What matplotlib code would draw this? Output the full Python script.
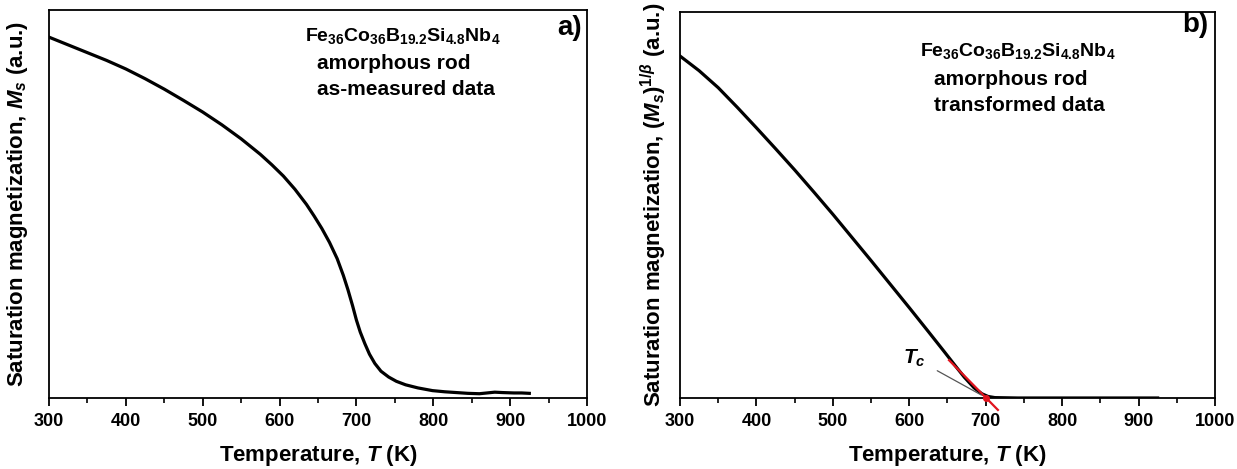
import numpy as np
import matplotlib
matplotlib.use("Agg")
import matplotlib.pyplot as plt

plt.rcParams['font.family'] = ['Liberation Sans', 'DejaVu Sans']
plt.rcParams['font.weight'] = 'bold'
plt.rcParams['axes.labelweight'] = 'bold'
plt.rcParams['mathtext.fontset'] = 'custom'
plt.rcParams['mathtext.rm'] = 'Liberation Sans:bold'
plt.rcParams['mathtext.bf'] = 'Liberation Sans:bold'
plt.rcParams['mathtext.it'] = 'Liberation Sans:italic:bold'

# panel a) as-measured Ms(T), arbitrary units
T_a = [300, 325, 350, 375, 400, 425, 450, 475, 500, 525, 550, 575, 590, 605, 620, 635, 645,
       655, 665, 675, 683, 689, 695, 700, 705, 711, 717, 724, 732, 742, 752, 764, 780,
       799, 815, 830, 845, 860, 870, 880, 890, 905, 915, 925]
M_a = [0.930, 0.910, 0.890, 0.870, 0.848, 0.823, 0.796, 0.767, 0.737, 0.704, 0.668, 0.628,
       0.601, 0.572, 0.538, 0.499, 0.469, 0.437, 0.401, 0.359, 0.316, 0.279, 0.238, 0.201,
       0.170, 0.140, 0.113, 0.089, 0.069, 0.054, 0.043, 0.034, 0.026, 0.019, 0.016, 0.014,
       0.012, 0.011, 0.013, 0.015, 0.014, 0.013, 0.013, 0.012]

# panel b) transformed data (Ms)^(1/beta)
T_b = [300, 325, 350, 375, 400, 425, 450, 475, 500, 525, 550, 575, 600, 625, 645, 660,
       672, 685, 695, 703, 712, 742, 800, 860, 925]
M_b = [0.886, 0.848, 0.804, 0.753, 0.700, 0.646, 0.591, 0.534, 0.476, 0.416, 0.356, 0.295,
       0.234, 0.172, 0.122, 0.084, 0.054, 0.026, 0.011, 0.004, 0.001, 0.0, 0.0, 0.0, 0.0]

# linear fit near Tc
fit_T = [652, 716]
fit_M = [0.098, -0.031]
Tc = 700

xticks = [300, 400, 500, 600, 700, 800, 900, 1000]
xticklabels = ['300', '400', '500', '600', '700', '800', '900', '1000']

fig = plt.figure(figsize=(12.37, 4.69), dpi=100)
ax1 = fig.add_axes([0.0396, 0.1514, 0.4349, 0.8273])
ax2 = fig.add_axes([0.5497, 0.1514, 0.4325, 0.8230])

comp = r'Fe$_{36}$Co$_{36}$B$_{19.2}$Si$_{4.8}$Nb$_{4}$'

for ax in (ax1, ax2):
    ax.set_xlim(300, 1000)
    ax.set_xticks(xticks)
    ax.set_xticklabels(xticklabels, fontweight='bold', fontsize=13)
    ax.set_xticks(np.arange(350, 1000, 100), minor=True)
    ax.set_yticks([])
    ax.tick_params(axis='x', which='major', direction='out', length=6, width=1.3, pad=5)
    ax.tick_params(axis='x', which='minor', direction='out', length=3.5, width=1.2)
    for s in ax.spines.values():
        s.set_linewidth(1.3)
    ax.set_xlabel(r'Temperature, $\mathit{T}$ (K)', fontsize=16, labelpad=9)

ax1.plot(T_a, M_a, color='black', lw=2.3)
ax1.set_ylim(0, 1)
ax1.set_ylabel(r'Saturation magnetization, $\mathit{M}_{s}$ (a.u.)', fontsize=16, labelpad=14)
ax1.text(0.658, 0.933, comp, transform=ax1.transAxes, ha='center', va='center', fontsize=14)
ax1.text(0.498, 0.863, 'amorphous rod', transform=ax1.transAxes, ha='left', va='center', fontsize=15)
ax1.text(0.498, 0.794, 'as-measured data', transform=ax1.transAxes, ha='left', va='center', fontsize=15)
ax1.text(0.968, 0.954, 'a)', transform=ax1.transAxes, ha='center', va='center', fontsize=20)

ax2.plot(T_b, M_b, color='black', lw=2.3)
ax2.plot(fit_T, fit_M, color='#e0141e', lw=1.6, clip_on=False, zorder=3)
ax2.plot([Tc], [0], 'o', color='#e0141e', ms=4, clip_on=False, zorder=4)
ax2.set_ylim(0, 1)
ax2.annotate(r'$\mathit{T}_{c}$', xy=(694, 0.008), xytext=(607, 0.103),
             fontsize=15, ha='center', va='center',
             arrowprops=dict(arrowstyle='-', color='#555555', lw=0.9, shrinkA=7, shrinkB=0))
ax2.set_ylabel(r'Saturation magnetization, $(\mathit{M}_{s})^{1/\beta}$ (a.u.)', fontsize=16, labelpad=8)
ax2.text(0.632, 0.90, comp, transform=ax2.transAxes, ha='center', va='center', fontsize=14)
ax2.text(0.474, 0.824, 'amorphous rod', transform=ax2.transAxes, ha='left', va='center', fontsize=15)
ax2.text(0.474, 0.759, 'transformed data', transform=ax2.transAxes, ha='left', va='center', fontsize=15)
ax2.text(0.963, 0.966, 'b)', transform=ax2.transAxes, ha='center', va='center', fontsize=20)

fig.savefig('out.png', dpi=100)
